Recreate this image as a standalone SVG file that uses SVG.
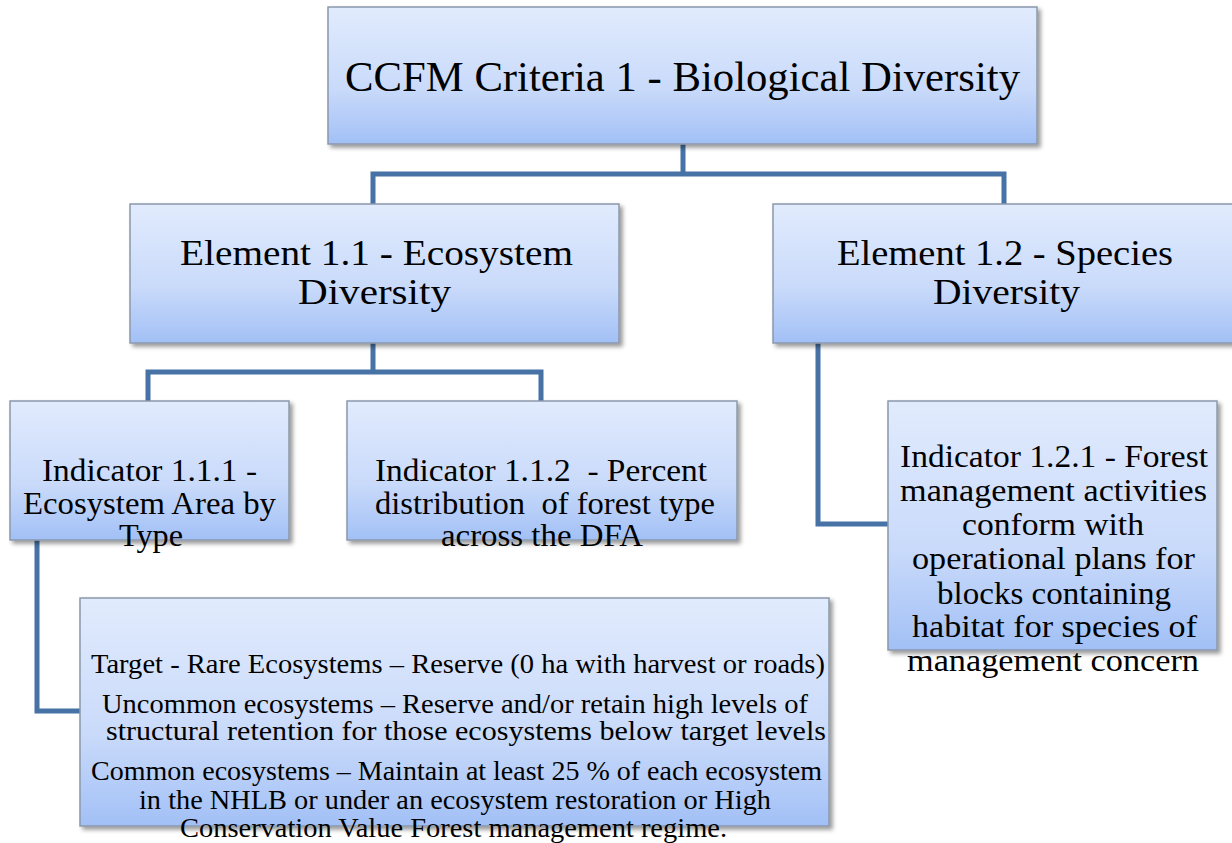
<svg xmlns="http://www.w3.org/2000/svg" width="1232" height="843" viewBox="0 0 1232 843">
<defs>
<linearGradient id="g" x1="0" y1="0" x2="0" y2="1">
<stop offset="0" stop-color="#e1ebfd"/>
<stop offset="0.6" stop-color="#c9dafa"/>
<stop offset="1" stop-color="#a2c0f6"/>
</linearGradient>
<filter id="sh" x="-5%" y="-5%" width="110%" height="115%">
<feDropShadow dx="3" dy="3" stdDeviation="2" flood-color="#000" flood-opacity="0.4"/>
</filter>
<style>
.box{fill:url(#g);stroke:#8a98ab;stroke-width:1.5;filter:url(#sh)}
.t{font-family:"Liberation Serif","Times New Roman",serif;fill:#000;white-space:pre}
.c{fill:none;stroke:#4672a6;stroke-width:5;stroke-linejoin:miter}
</style>
</defs>
<rect width="1232" height="843" fill="#fff"/>
<g id="connectors">
<path class="c" d="M683 144 V174"/>
<path class="c" d="M373 204 V174 H1004 V204"/>
<path class="c" d="M373 343 V372"/>
<path class="c" d="M148 401 V372 H541 V401"/>
<path class="c" d="M37 540 V711 H80"/>
<path class="c" d="M818 343 V524 H888"/>
</g>
<g id="criteria1">
<rect class="box" x="328" y="7" width="709" height="137"/>
<text class="t" font-size="42" x="345" y="91" textLength="675" lengthAdjust="spacingAndGlyphs">CCFM Criteria 1 - Biological Diversity</text>
</g>
<g id="element11">
<rect class="box" x="130" y="204" width="489" height="139"/>
<text class="t" font-size="36" x="180" y="265" textLength="393" lengthAdjust="spacingAndGlyphs">Element 1.1 - Ecosystem</text>
<text class="t" font-size="36" x="298" y="304" textLength="153" lengthAdjust="spacingAndGlyphs">Diversity</text>
</g>
<g id="element12">
<rect class="box" x="773" y="204" width="470" height="139"/>
<text class="t" font-size="36" x="837" y="265" textLength="336" lengthAdjust="spacingAndGlyphs">Element 1.2 - Species</text>
<text class="t" font-size="36" x="933" y="304" textLength="147" lengthAdjust="spacingAndGlyphs">Diversity</text>
</g>
<g id="indicator111">
<rect class="box" x="10" y="401" width="279" height="139"/>
<text class="t" font-size="32" x="42" y="481" textLength="215" lengthAdjust="spacingAndGlyphs">Indicator 1.1.1 -</text>
<text class="t" font-size="32" x="23" y="514" textLength="253" lengthAdjust="spacingAndGlyphs">Ecosystem Area by</text>
<text class="t" font-size="32" x="119" y="546" textLength="64" lengthAdjust="spacingAndGlyphs">Type</text>
</g>
<g id="indicator112">
<rect class="box" x="347" y="401" width="390" height="139"/>
<text class="t" font-size="32" x="375" y="481" textLength="332" lengthAdjust="spacingAndGlyphs">Indicator 1.1.2  - Percent</text>
<text class="t" font-size="32" x="375" y="514" textLength="340" lengthAdjust="spacingAndGlyphs">distribution  of forest type</text>
<text class="t" font-size="32" x="441" y="546" textLength="202" lengthAdjust="spacingAndGlyphs">across the DFA</text>
</g>
<g id="indicator121">
<rect class="box" x="888" y="401" width="329" height="249"/>
<text class="t" font-size="32" x="900" y="467" textLength="308" lengthAdjust="spacingAndGlyphs">Indicator 1.2.1 - Forest</text>
<text class="t" font-size="32" x="900" y="501" textLength="307" lengthAdjust="spacingAndGlyphs">management activities</text>
<text class="t" font-size="32" x="962" y="535" textLength="182" lengthAdjust="spacingAndGlyphs">conform with</text>
<text class="t" font-size="32" x="912" y="569" textLength="283" lengthAdjust="spacingAndGlyphs">operational plans for</text>
<text class="t" font-size="32" x="937" y="604" textLength="234" lengthAdjust="spacingAndGlyphs">blocks containing</text>
<text class="t" font-size="32" x="912" y="637" textLength="285" lengthAdjust="spacingAndGlyphs">habitat for species of</text>
<text class="t" font-size="32" x="907" y="671" textLength="292" lengthAdjust="spacingAndGlyphs">management concern</text>
</g>
<g id="targets">
<rect class="box" x="80" y="598" width="749" height="228"/>
<text class="t" font-size="28" x="91" y="673" textLength="734" lengthAdjust="spacingAndGlyphs">Target - Rare Ecosystems – Reserve (0 ha with harvest or roads)</text>
<text class="t" font-size="28" x="102" y="713" textLength="706" lengthAdjust="spacingAndGlyphs">Uncommon ecosystems – Reserve and/or retain high levels of</text>
<text class="t" font-size="28" x="106" y="740" textLength="720" lengthAdjust="spacingAndGlyphs">structural retention for those ecosystems below target levels</text>
<text class="t" font-size="28" x="91" y="780" textLength="731" lengthAdjust="spacingAndGlyphs">Common ecosystems – Maintain at least 25 % of each ecosystem</text>
<text class="t" font-size="28" x="139" y="809" textLength="632" lengthAdjust="spacingAndGlyphs">in the NHLB or under an ecosystem restoration or High</text>
<text class="t" font-size="28" x="180" y="837" textLength="547" lengthAdjust="spacingAndGlyphs">Conservation Value Forest management regime.</text>
</g>
</svg>
